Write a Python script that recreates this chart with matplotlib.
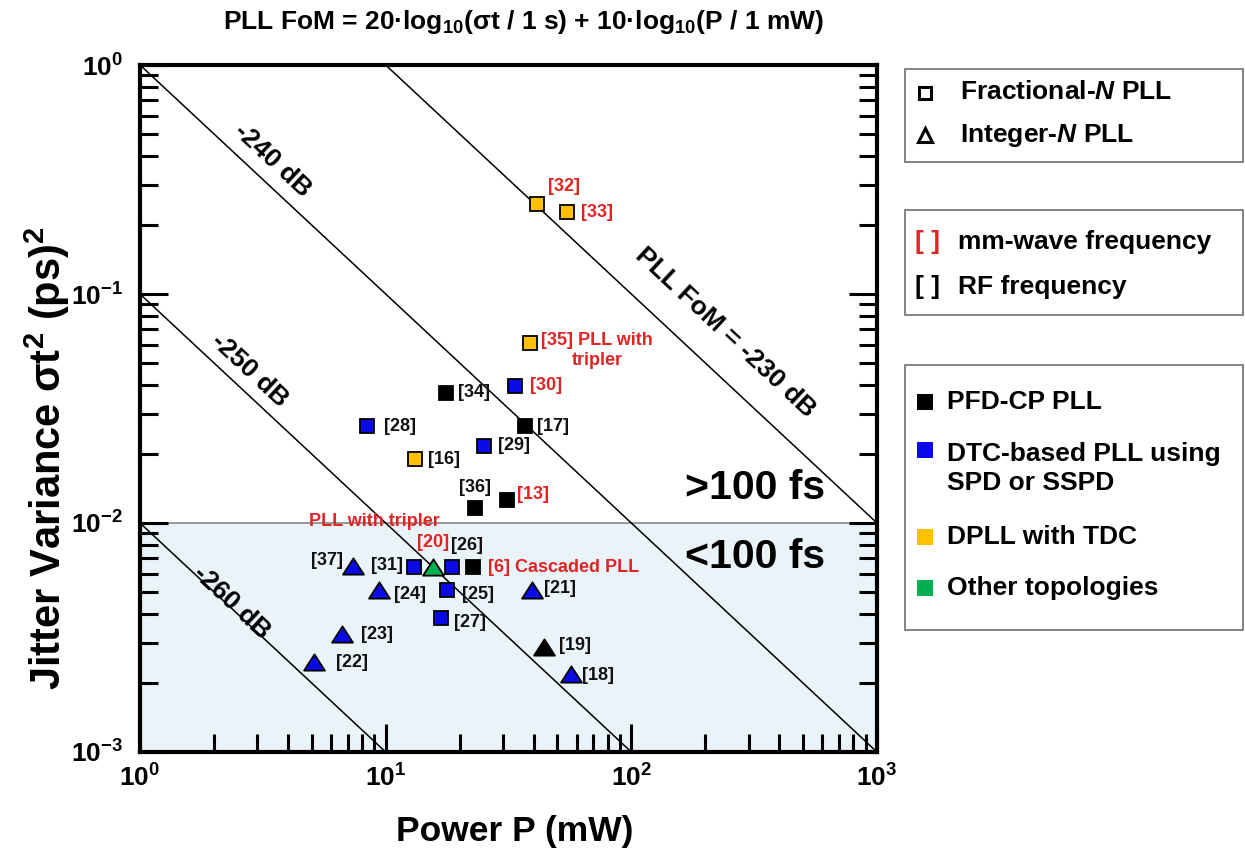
import numpy as np
import matplotlib
matplotlib.use("Agg")
import matplotlib.pyplot as plt
from matplotlib.path import Path
from matplotlib.patches import Rectangle

plt.rcParams['font.family'] = ['Liberation Sans', 'DejaVu Sans']
plt.rcParams['font.weight'] = 'bold'
plt.rcParams['axes.labelweight'] = 'bold'
plt.rcParams['mathtext.fontset'] = 'custom'
plt.rcParams['mathtext.rm'] = 'Liberation Sans:bold'
plt.rcParams['mathtext.it'] = 'Liberation Sans:italic:bold'
plt.rcParams['mathtext.bf'] = 'Liberation Sans:bold'

# ---------------- data ----------------
refs = ['[32]', '[33]', '[35]', '[30]', '[34]', '[28]', '[17]', '[29]', '[16]',
        '[36]', '[13]', '[37]', '[31]', '[20]', '[26]', '[6]', '[24]', '[25]',
        '[21]', '[27]', '[23]', '[22]', '[19]', '[18]']
power_mw = [41.3, 54.7, 38.7, 33.6, 17.6, 8.4, 36.9, 25.1, 13.2,
            23.1, 31.2, 7.36, 13.0, 15.6, 18.6, 22.6, 9.4, 17.8,
            39.4, 16.8, 6.64, 5.11, 44.1, 56.8]
jitter_var_ps2 = [0.247, 0.228, 0.061, 0.0397, 0.037, 0.0265, 0.0265, 0.0217, 0.019,
                  0.0116, 0.0126, 0.0065, 0.0064, 0.0064, 0.0064, 0.0064, 0.0051, 0.0051,
                  0.0051, 0.00385, 0.00327, 0.00247, 0.00288, 0.00219]
pll_type = ['frac', 'frac', 'frac', 'frac', 'frac', 'frac', 'frac', 'frac', 'frac',
            'frac', 'frac', 'int', 'frac', 'int', 'frac', 'frac', 'int', 'frac',
            'int', 'frac', 'int', 'int', 'int', 'int']
topology = ['DPLL', 'DPLL', 'DPLL', 'DTC', 'PFD', 'DTC', 'PFD', 'DTC', 'DPLL',
            'PFD', 'PFD', 'DTC', 'DTC', 'Other', 'DTC', 'PFD', 'DTC', 'DTC',
            'DTC', 'DTC', 'DTC', 'DTC', 'PFD', 'DTC']
band = ['mm', 'mm', 'mm', 'mm', 'RF', 'RF', 'RF', 'RF', 'RF',
        'RF', 'mm', 'RF', 'RF', 'mm', 'RF', 'mm', 'RF', 'RF',
        'RF', 'RF', 'RF', 'RF', 'RF', 'RF']
label_suffix = {'[35]': ' PLL with\ntripler', '[6]': ' Cascaded PLL'}
fom_levels_db = [-230, -240, -250, -260]
jitter_threshold_ps2 = 1e-2   # 100 fs
x_limits = [1, 1000]
y_limits = [1e-3, 1]

# ---------------- styles ----------------
topo_colors = {'PFD': '#000000', 'DTC': '#0a0ae6', 'DPLL': '#ffc000', 'Other': '#00b050'}
topo_names = {'PFD': 'PFD-CP PLL', 'DTC': 'DTC-based PLL using\nSPD or SSPD',
              'DPLL': 'DPLL with TDC', 'Other': 'Other topologies'}
red = '#e02424'
band_colors = {'mm': red, 'RF': '#111111'}
tri = Path([(-1, -0.78), (1, -0.78), (0, 0.78), (-1, -0.78)],
           [Path.MOVETO, Path.LINETO, Path.LINETO, Path.CLOSEPOLY])
shape_marker = {'frac': ('s', 10.5), 'int': (tri, 15)}

# label offsets in points (dx, dy, ha, va)
label_pos = {
    '[32]': (8, 13, 'left', 'center'), '[33]': (10, 0, 'left', 'center'),
    '[35]': (8, 8, 'left', 'top'), '[30]': (11, 0, 'left', 'center'),
    '[34]': (9, 0, 'left', 'center'), '[28]': (12, 0, 'left', 'center'),
    '[17]': (9, 0, 'left', 'center'), '[29]': (10, 0, 'left', 'center'),
    '[16]': (9, 0, 'left', 'center'), '[36]': (0, 15, 'center', 'center'),
    '[13]': (7, 4, 'left', 'center'), '[37]': (-7, 4, 'right', 'center'),
    '[31]': (-8, 1, 'right', 'center'), '[20]': (0, 18, 'center', 'center'),
    '[26]': (11, 16, 'center', 'center'), '[6]': (11, 0, 'left', 'center'),
    '[24]': (11, -3, 'left', 'center'), '[25]': (11, -3, 'left', 'center'),
    '[21]': (9, 1, 'left', 'center'), '[27]': (9, -3, 'left', 'center'),
    '[23]': (14, 0, 'left', 'center'), '[22]': (16, 0, 'left', 'center'),
    '[19]': (11, 1, 'left', 'center'), '[18]': (8, -1, 'left', 'center'),
}

W, H = 1245, 857
fig = plt.figure(figsize=(W / 100, H / 100), dpi=100)
ax = fig.add_axes([140 / W, 1 - 752 / H, (877 - 140) / W, (752 - 65) / H])
ax.set_xscale('log')
ax.set_yscale('log')
ax.set_xlim(x_limits)
ax.set_ylim(y_limits)

# shaded <100 fs region
ax.axhspan(y_limits[0], jitter_threshold_ps2, color='#eaf3f7', zorder=0, lw=0)
ax.axhline(jitter_threshold_ps2, color='#888888', lw=1.2, zorder=1)

# FoM lines: y * P = 10^((FoM + 240)/10)
p_line = np.array([0.5, 2000.0])
for fom in fom_levels_db:
    ax.plot(p_line, 10 ** ((fom + 240) / 10) / p_line, color='black', lw=1.1, zorder=2)

# data points
pt_fs = 13
for r, p, v, t, topo, b in zip(refs, power_mw, jitter_var_ps2, pll_type, topology, band):
    m, ms = shape_marker[t]
    ax.plot([p], [v], marker=m, ms=ms, mfc=topo_colors[topo], mec='black',
            mew=1.3, ls='none', zorder=4)
    dx, dy, ha, va = label_pos[r]
    ax.annotate(r + label_suffix.get(r, ''), (p, v), xytext=(dx, dy),
                textcoords='offset points', ha=ha, va=va, fontsize=pt_fs,
                color=band_colors[b], multialignment='center', zorder=5)

# "PLL with tripler" note for [20]
i20 = refs.index('[20]')
ax.annotate('PLL with tripler', (power_mw[i20], jitter_var_ps2[i20]), xytext=(-42, 33),
            textcoords='offset points', ha='center', va='center', fontsize=pt_fs, color=red)

# FoM line labels
rot = -43
db_fs = 19
ax.text(3.45, 0.385, '-240 dB', rotation=rot, rotation_mode='anchor', ha='center',
        va='center', fontsize=db_fs)
ax.text(2.80, 0.0466, '-250 dB', rotation=rot, rotation_mode='anchor', ha='center',
        va='center', fontsize=db_fs)
ax.text(2.37, 0.00452, '-260 dB', rotation=rot, rotation_mode='anchor', ha='center',
        va='center', fontsize=db_fs)
ax.text(240, 0.0676, 'PLL FoM = -230 dB', rotation=rot, rotation_mode='anchor',
        ha='center', va='center', fontsize=db_fs)
ax.text(318, 0.0142, '>100 fs', ha='center', va='center', fontsize=29.5)
ax.text(318, 0.0071, '<100 fs', ha='center', va='center', fontsize=29.5)

# axes styling
for s in ax.spines.values():
    s.set_linewidth(3)
ax.tick_params(which='major', direction='in', length=20, width=2.2, labelsize=19,
               top=False, right=True, labelright=False)
ax.tick_params(which='minor', direction='in', length=13, width=2.2,
               top=False, right=True)
ax.tick_params(axis='x', which='major', pad=9)
ax.tick_params(axis='y', which='major', pad=12)
for lab in ax.get_xticklabels() + ax.get_yticklabels():
    lab.set_fontweight('bold')

ax.set_xlabel('Power P (mW)', fontsize=25.5, fontweight='bold', va='center')
ax.xaxis.set_label_coords((515 - 140) / 737, -(832 - 752) / 687)
ax.set_ylabel('Jitter Variance σt$^{2}$ (ps)$^{2}$', fontsize=30, fontweight='bold',
              va='center')
ax.yaxis.set_label_coords((47 - 140) / 737, (752 - 458) / 687)

# overlay in pixel coordinates for title and legends
ov = fig.add_axes([0, 0, 1, 1], zorder=-1)
ov.set_xlim(0, W)
ov.set_ylim(H, 0)
ov.axis('off')

ov.text(523, 22, 'PLL FoM = 20·log$_{10}$(σt / 1 s) + 10·log$_{10}$(P / 1 mW)',
        ha='center', va='center', fontsize=19)

box_kw = dict(fill=False, edgecolor='#6e6e6e', lw=1.2)
ov.add_patch(Rectangle((905, 69), 338, 93, **box_kw))
ov.add_patch(Rectangle((905, 210), 338, 105, **box_kw))
ov.add_patch(Rectangle((905, 365), 338, 265, **box_kw))

leg_fs = 19
ov.plot([925], [93], marker='s', ms=8.5, mfc='white', mec='black', mew=2.2)
ov.text(960, 92, 'Fractional-$\\mathit{N}$ PLL', ha='left', va='center', fontsize=leg_fs)
ov.plot([925], [135], marker='^', ms=10.5, mfc='white', mec='black', mew=2.2)
ov.text(960, 135, 'Integer-$\\mathit{N}$ PLL', ha='left', va='center', fontsize=leg_fs)

ov.text(915, 242, '[ ]', ha='left', va='center', fontsize=leg_fs, color=red)
ov.text(958, 242, 'mm-wave frequency', ha='left', va='center', fontsize=leg_fs)
ov.text(915, 287, '[ ]', ha='left', va='center', fontsize=leg_fs, color='black')
ov.text(958, 287, 'RF frequency', ha='left', va='center', fontsize=leg_fs)

topo_leg_y = {'PFD': 402, 'DTC': 450, 'DPLL': 537, 'Other': 588}
topo_text_y = {'PFD': 402, 'DTC': 468.5, 'DPLL': 537, 'Other': 588}
for key in ['PFD', 'DTC', 'DPLL', 'Other']:
    ov.plot([925], [topo_leg_y[key]], marker='s', ms=11, mfc=topo_colors[key],
            mec=topo_colors[key], mew=0)
    ov.text(947, topo_text_y[key], topo_names[key], ha='left', va='center',
            fontsize=leg_fs, linespacing=1.25)

fig.savefig('out.png', dpi=100)
